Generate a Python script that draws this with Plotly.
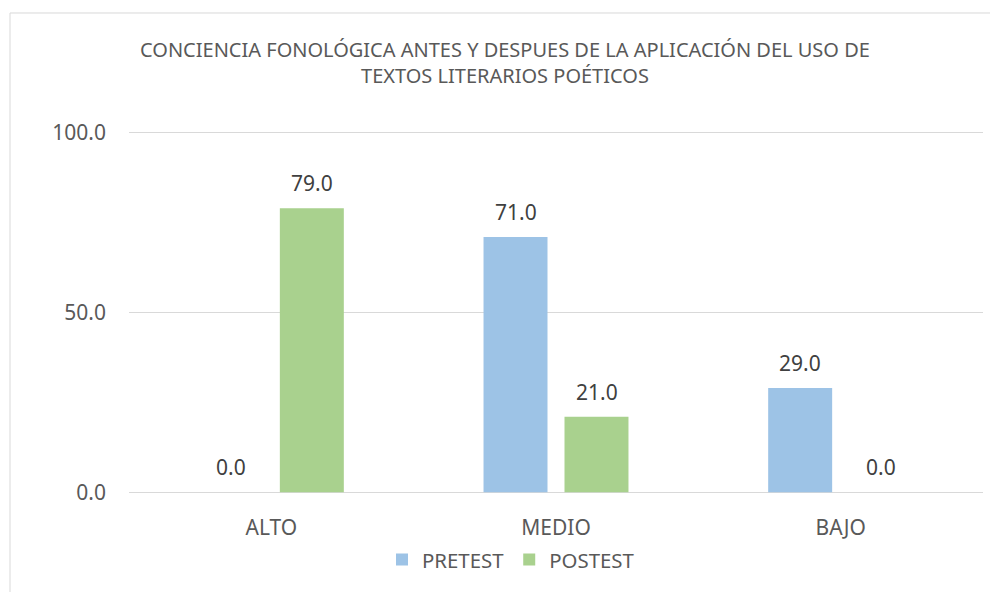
import plotly.graph_objects as go

categories = ["ALTO", "MEDIO", "BAJO"]
pretest = [0.0, 71.0, 29.0]
postest = [79.0, 21.0, 0.0]
series_names = ["PRETEST", "POSTEST"]
colors = ["#9DC3E6", "#A9D18E"]
y_ticks = [0, 50, 100]
y_tick_labels = ["0.0", "50.0", "100.0"]
title_text = "CONCIENCIA FONOLÓGICA ANTES Y DESPUES DE LA APLICACIÓN DEL USO DE<br>TEXTOS LITERARIOS POÉTICOS"

FONT = "Noto Sans"
# page body adds an 8px offset; layout coordinates below are screen - 8
W, H = 990, 584
px_per_unit = (486 - 124.5) / 100.0
L, R = 121, 15
T = 124.5 - 0.5 * px_per_unit
B = H - (486 + 0.5 * px_per_unit)
pw = W - L - R
ph = H - T - B

fig = go.Figure()
for name, vals, col in zip(series_names, [pretest, postest], colors):
    fig.add_trace(go.Bar(x=categories, y=vals, name=name, marker=dict(color=col, line=dict(width=0))))

annotations = []
for k, vals in enumerate([pretest, postest]):
    shift = -40.5 if k == 0 else 40.5
    for c, v in zip(categories, vals):
        annotations.append(dict(x=c, y=v, xref="x", yref="y", text=f"{v:.1f}", showarrow=False,
                                xshift=shift, yshift=25, yanchor="middle", xanchor="center",
                                font=dict(family=FONT, size=21, color="#404040")))

def py(ypix):
    # layout pixel (from top) -> paper y
    return (H - B - ypix) / ph

fig.update_layout(
    width=W, height=H,
    margin=dict(l=L, r=R, t=T, b=B, pad=0),
    paper_bgcolor="white", plot_bgcolor="white",
    barmode="group", bargap=0.431, bargroupgap=0.21,
    title=dict(text=title_text, x=0.502, xref="container", xanchor="center",
               y=1 - 49 / H, yref="container", yanchor="top",
               font=dict(family=FONT, size=20, color="#595959")),
    showlegend=True,
    legend=dict(orientation="h", x=(374 - L) / pw, xanchor="left", y=py(554), yanchor="middle",
                font=dict(family=FONT, size=20.4, color="#595959"), itemwidth=30,
                bgcolor="rgba(0,0,0,0)"),
    annotations=annotations,
    font=dict(family=FONT, color="#595959"),
)
fig.update_xaxes(showgrid=False, showline=False, zeroline=False, ticks="",
                 tickfont=dict(family=FONT, size=21, color="#595959"), ticklabelstandoff=19)
fig.update_yaxes(range=[-0.5, 100.5], tickvals=y_ticks, ticktext=y_tick_labels, showgrid=True,
                 gridcolor="#D9D9D9", gridwidth=1, zeroline=True, zerolinecolor="#D9D9D9",
                 zerolinewidth=1, showline=False, ticks="",
                 tickfont=dict(family=FONT, size=21, color="#595959"), ticklabelstandoff=22)

fig.add_shape(type="rect", xref="paper", yref="paper",
              x0=(2 - L) / pw, x1=1.2, y0=-0.6, y1=py(4),
              line=dict(color="#D9D9D9", width=1), fillcolor="rgba(0,0,0,0)", layer="below")

fig.write_html("out.html")
